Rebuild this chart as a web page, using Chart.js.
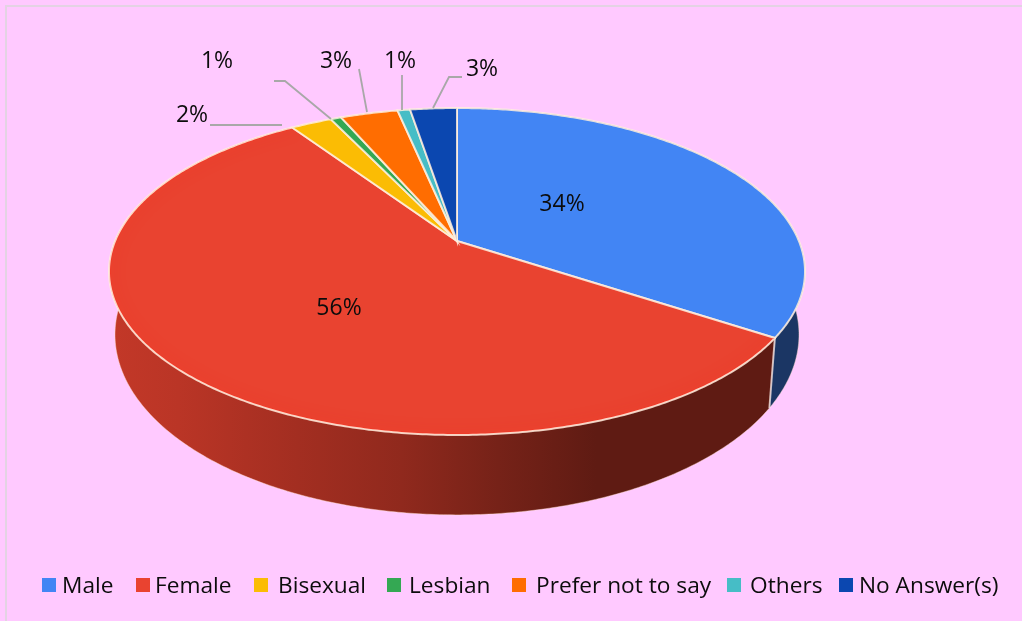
<!DOCTYPE html>
<html>
<head>
<meta charset="utf-8">
<script src="https://cdn.jsdelivr.net/npm/chart.js@4"></script>
<style>
  html, body { margin: 0; padding: 0; background: #ffc9ff; overflow: hidden; }
  #wrap { position: relative; width: 1022px; height: 621px; }
  #frame { position: absolute; left: 5px; top: 5px; right: -4px; bottom: -4px; border: 2px solid #e3d3e3; }
  canvas { position: absolute; left: 0; top: 0; }
</style>
</head>
<body>
<div id="wrap">
  <div id="frame"></div>
  <canvas id="chart" width="1022" height="621"></canvas>
</div>
<script>
let categories = ['Male', 'Female', 'Bisexual', 'Lesbian', 'Prefer not to say', 'Others', 'No Answer(s)']
let shares = [34.3, 56.3, 2.3, 0.6, 3.2, 0.7, 2.6]
let colors = ['#4285f4', '#e94330', '#fbbc04', '#34a853', '#ff6d01', '#46bdc6', '#0b47b0']

// text placement, one per slice: label centre, then leader line (empty = no leader)
let labelSpots = [[562, 204], [339, 308], [192, 115], [217, 61], [336, 61], [400, 61], [482, 69]]
let leaders = [[], [], [[210, 125], [282, 125]], [[274, 81], [285, 81], [331, 119]], [[359, 69], [367, 112]], [[402, 75], [402, 110]], [[462, 77], [449, 77], [433, 108]]]
let legendBoxes = [42, 136, 254, 387, 512, 727, 839]
let legendTexts = [62, 155, 278, 409, 536, 750, 859]

// the pie is seen in perspective, so the centre sits above the middle of the ellipse
let lean = 0.1865
let topFace = { x: 457, y: 241, rx: 341.9, ry: 157.8 }
let baseFace = { x: 457, y: 301, rx: 336, ry: 174 }
let wallLight = [[0, 0.84], [0.1, 0.8], [0.27, 0.7], [0.42, 0.62], [0.56, 0.51], [0.7, 0.41], [1, 0.41]]

function project(face, angle) {
    let w = 1 - lean * Math.sin(angle)
    return [face.x + face.rx * Math.cos(angle) / w, face.y + face.ry * Math.sin(angle) / w]
}

function rim(face, from, to) {
    let steps = Math.max(2, Math.ceil(Math.abs(to - from) / 0.01))
    let pts = []
    for (let i = 0; i <= steps; i++) pts.push(project(face, from + (to - from) * i / steps))
    return pts
}

function trace(ctx, pts) {
    ctx.beginPath()
    pts.forEach((p, i) => i ? ctx.lineTo(p[0], p[1]) : ctx.moveTo(p[0], p[1]))
}

function shade(hex, f) {
    let n = parseInt(hex.slice(1), 16)
    return `rgb(${(n >> 16) * f | 0},${((n >> 8) & 255) * f | 0},${(n & 255) * f | 0})`
}

let perspectivePie = {
    id: 'perspectivePie',
    beforeDatasetsDraw(chart) {
        let ctx = chart.ctx
        let arcs = chart.getDatasetMeta(0).data
        let values = chart.data.datasets[0].data
        let total = values.reduce((a, b) => a + b, 0)
        let left = topFace.x - 348, right = topFace.x + 348

        arcs.forEach((arc, i) => {
            let g = ctx.createLinearGradient(left, 0, right, 0)
            wallLight.forEach(s => g.addColorStop(s[0], shade(colors[i], s[1])))
            trace(ctx, rim(topFace, arc.startAngle, arc.endAngle).concat(rim(baseFace, arc.endAngle, arc.startAngle)))
            ctx.closePath()
            ctx.fillStyle = g
            ctx.fill()
            trace(ctx, rim(baseFace, arc.startAngle, arc.endAngle))
            ctx.strokeStyle = 'rgba(255,225,205,0.45)'
            ctx.lineWidth = 1
            ctx.stroke()
        })

        // seam where the blue and red walls meet
        let seam = arcs[0].endAngle
        trace(ctx, [project(topFace, seam), project(baseFace, seam)])
        ctx.strokeStyle = 'rgba(255,240,235,0.75)'
        ctx.lineWidth = 2
        ctx.stroke()

        arcs.forEach((arc, i) => {
            trace(ctx, [[topFace.x, topFace.y]].concat(rim(topFace, arc.startAngle, arc.endAngle)))
            ctx.closePath()
            ctx.fillStyle = colors[i]
            ctx.fill()
            // bright edge just inside the front of the red slice
            if (i === 1) {
                ctx.save()
                ctx.clip()
                ctx.shadowColor = 'rgba(255,40,25,0.7)'
                ctx.shadowBlur = 14
                trace(ctx, rim(topFace, arc.startAngle, arc.endAngle))
                ctx.strokeStyle = 'rgba(255,45,30,0.5)'
                ctx.lineWidth = 3
                ctx.stroke()
                ctx.restore()
                trace(ctx, [[topFace.x, topFace.y]].concat(rim(topFace, arc.startAngle, arc.endAngle)))
                ctx.closePath()
            }
            ctx.strokeStyle = 'rgba(255,238,222,0.85)'
            ctx.lineWidth = 2
            ctx.stroke()
        })

        ctx.font = '23px "Open Sans"'
        ctx.textAlign = 'center'
        ctx.textBaseline = 'middle'
        arcs.forEach((arc, i) => {
            if (leaders[i].length) {
                trace(ctx, leaders[i])
                ctx.strokeStyle = '#a8a8a8'
                ctx.lineWidth = 1.8
                ctx.stroke()
            }
            ctx.fillStyle = '#0c0c0c'
            ctx.fillText(Math.round(values[i] / total * 100) + '%', labelSpots[i][0], labelSpots[i][1])
        })

        ctx.font = '22.7px "Open Sans"'
        ctx.textAlign = 'left'
        ctx.textBaseline = 'alphabetic'
        chart.data.labels.forEach((name, i) => {
            ctx.fillStyle = colors[i]
            ctx.fillRect(legendBoxes[i], 578, 14, 14)
            ctx.fillStyle = '#0c0c0c'
            ctx.fillText(name, legendTexts[i], 593)
        })
        return false
    }
}

new Chart(document.getElementById('chart').getContext('2d'), {
    type: 'pie',
    data: {
        labels: categories,
        datasets: [{ data: shares, backgroundColor: colors, borderWidth: 0 }]
    },
    options: {
        responsive: false,
        animation: false,
        plugins: { legend: { display: false }, tooltip: { enabled: false } }
    },
    plugins: [perspectivePie]
})
</script>
</body>
</html>
